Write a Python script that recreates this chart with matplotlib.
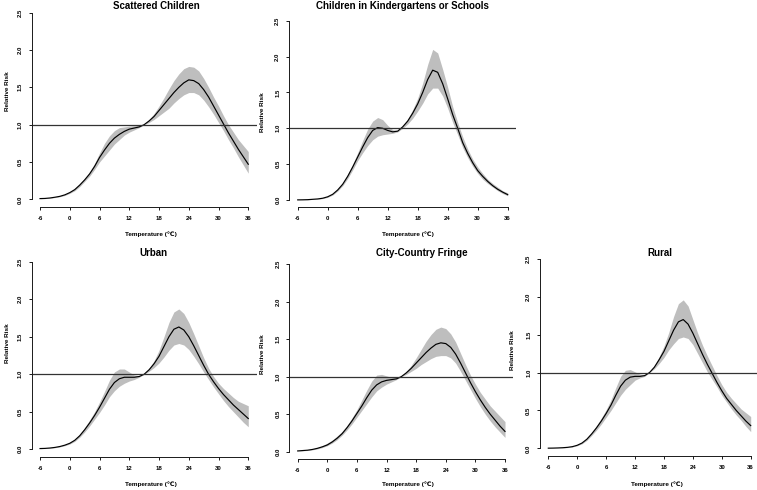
import numpy as np
import matplotlib
matplotlib.use("Agg")
import matplotlib.pyplot as plt

plt.rcParams['font.family'] = ['Liberation Sans', 'DejaVu Sans']
plt.rcParams['axes.unicode_minus'] = False

# temperature grid (degrees C)
temps = list(range(-6, 37))

# relative risk curves: estimate, lower and upper bound
scattered_est = [0.01, 0.012, 0.018, 0.028, 0.04, 0.06, 0.09, 0.13, 0.19, 0.26, 0.34, 0.44,
                 0.56, 0.66, 0.75, 0.82, 0.87, 0.91, 0.94, 0.955, 0.97, 1.0, 1.05, 1.11,
                 1.19, 1.27, 1.35, 1.43, 1.50, 1.56, 1.60, 1.59, 1.55, 1.47, 1.37, 1.25,
                 1.13, 1.01, 0.89, 0.78, 0.67, 0.57, 0.47]
scattered_lo = [0.008, 0.01, 0.015, 0.024, 0.035, 0.052, 0.08, 0.115, 0.17, 0.24, 0.31, 0.40,
                0.50, 0.58, 0.66, 0.74, 0.80, 0.86, 0.90, 0.93, 0.96, 1.0, 1.03, 1.07,
                1.12, 1.17, 1.22, 1.29, 1.35, 1.40, 1.43, 1.43, 1.40, 1.33, 1.24, 1.14,
                1.03, 0.92, 0.80, 0.69, 0.57, 0.46, 0.35]
scattered_hi = [0.012, 0.015, 0.021, 0.032, 0.045, 0.068, 0.10, 0.145, 0.21, 0.28, 0.37, 0.48,
                0.62, 0.75, 0.85, 0.92, 0.96, 0.97, 0.98, 0.985, 0.99, 1.0, 1.07, 1.15,
                1.25, 1.36, 1.48, 1.59, 1.68, 1.75, 1.78, 1.77, 1.72, 1.62, 1.50, 1.37,
                1.25, 1.12, 1.00, 0.90, 0.80, 0.72, 0.64]

school_est = [0.002, 0.003, 0.005, 0.01, 0.015, 0.025, 0.045, 0.08, 0.14, 0.22, 0.33, 0.46,
              0.60, 0.74, 0.87, 0.97, 1.01, 1.00, 0.97, 0.95, 0.96, 1.02, 1.10, 1.21,
              1.34, 1.50, 1.68, 1.81, 1.78, 1.62, 1.41, 1.19, 1.00, 0.80, 0.65, 0.52,
              0.41, 0.33, 0.26, 0.20, 0.15, 0.11, 0.075]
school_lo = [0.001, 0.002, 0.004, 0.008, 0.012, 0.02, 0.038, 0.07, 0.125, 0.20, 0.30, 0.42,
             0.55, 0.66, 0.76, 0.84, 0.89, 0.91, 0.92, 0.93, 0.95, 1.0, 1.06, 1.14,
             1.24, 1.35, 1.48, 1.56, 1.56, 1.45, 1.28, 1.08, 0.91, 0.73, 0.59, 0.47,
             0.37, 0.29, 0.23, 0.18, 0.13, 0.09, 0.06]
school_hi = [0.003, 0.004, 0.007, 0.012, 0.018, 0.03, 0.052, 0.09, 0.155, 0.24, 0.36, 0.50,
             0.66, 0.83, 0.99, 1.10, 1.15, 1.12, 1.04, 0.98, 0.97, 1.03, 1.13, 1.26,
             1.42, 1.63, 1.89, 2.10, 2.05, 1.82, 1.57, 1.30, 1.08, 0.88, 0.71, 0.57,
             0.46, 0.37, 0.29, 0.23, 0.18, 0.13, 0.10]

urban_est = [0.01, 0.012, 0.017, 0.025, 0.037, 0.055, 0.08, 0.12, 0.18, 0.26, 0.35, 0.45,
             0.56, 0.68, 0.80, 0.89, 0.94, 0.96, 0.96, 0.96, 0.97, 1.0, 1.06, 1.14,
             1.24, 1.37, 1.50, 1.60, 1.63, 1.59, 1.50, 1.38, 1.25, 1.12, 1.00, 0.90,
             0.81, 0.73, 0.66, 0.59, 0.53, 0.47, 0.41]
urban_lo = [0.008, 0.01, 0.014, 0.021, 0.032, 0.048, 0.07, 0.105, 0.16, 0.23, 0.31, 0.40,
            0.49, 0.59, 0.70, 0.78, 0.84, 0.88, 0.91, 0.93, 0.96, 1.0, 1.04, 1.09,
            1.15, 1.23, 1.32, 1.39, 1.41, 1.39, 1.33, 1.24, 1.14, 1.03, 0.93, 0.83,
            0.74, 0.65, 0.57, 0.50, 0.43, 0.36, 0.30]
urban_hi = [0.012, 0.015, 0.02, 0.03, 0.043, 0.063, 0.09, 0.135, 0.20, 0.29, 0.39, 0.50,
            0.63, 0.77, 0.92, 1.03, 1.07, 1.07, 1.03, 0.99, 0.98, 1.0, 1.08, 1.18,
            1.32, 1.50, 1.69, 1.83, 1.87, 1.81, 1.69, 1.54, 1.38, 1.22, 1.08, 0.97,
            0.88, 0.81, 0.75, 0.69, 0.64, 0.61, 0.58]

fringe_est = [0.01, 0.015, 0.02, 0.03, 0.045, 0.065, 0.09, 0.13, 0.18, 0.24, 0.32, 0.41,
              0.51, 0.61, 0.72, 0.82, 0.89, 0.93, 0.95, 0.96, 0.97, 1.0, 1.05, 1.11,
              1.18, 1.25, 1.32, 1.38, 1.43, 1.45, 1.44, 1.39, 1.30, 1.18, 1.05, 0.92,
              0.80, 0.69, 0.59, 0.50, 0.42, 0.34, 0.27]
fringe_lo = [0.008, 0.012, 0.016, 0.025, 0.037, 0.055, 0.08, 0.115, 0.16, 0.22, 0.29, 0.37,
             0.46, 0.55, 0.64, 0.73, 0.81, 0.86, 0.90, 0.93, 0.96, 1.0, 1.03, 1.07,
             1.11, 1.16, 1.20, 1.24, 1.27, 1.28, 1.28, 1.25, 1.18, 1.07, 0.95, 0.83,
             0.71, 0.60, 0.50, 0.41, 0.33, 0.26, 0.19]
fringe_hi = [0.012, 0.018, 0.025, 0.037, 0.055, 0.08, 0.115, 0.155, 0.21, 0.27, 0.35, 0.45,
             0.56, 0.69, 0.82, 0.94, 1.02, 1.03, 1.01, 0.99, 0.99, 1.0, 1.07, 1.15,
             1.25, 1.36, 1.47, 1.56, 1.63, 1.66, 1.64, 1.57, 1.46, 1.31, 1.16, 1.02,
             0.90, 0.79, 0.70, 0.61, 0.54, 0.47, 0.40]

rural_est = [0.002, 0.003, 0.005, 0.008, 0.013, 0.022, 0.04, 0.07, 0.12, 0.19, 0.27, 0.36,
             0.46, 0.57, 0.70, 0.82, 0.90, 0.94, 0.95, 0.95, 0.96, 1.0, 1.07, 1.17,
             1.28, 1.42, 1.56, 1.67, 1.70, 1.64, 1.52, 1.38, 1.24, 1.11, 0.99, 0.87,
             0.76, 0.66, 0.58, 0.50, 0.43, 0.36, 0.30]
rural_lo = [0.001, 0.002, 0.004, 0.006, 0.01, 0.018, 0.034, 0.06, 0.105, 0.17, 0.24, 0.32,
            0.41, 0.50, 0.60, 0.70, 0.78, 0.84, 0.90, 0.93, 0.95, 1.0, 1.05, 1.12,
            1.20, 1.30, 1.38, 1.45, 1.47, 1.45, 1.37, 1.25, 1.13, 1.01, 0.91, 0.81,
            0.70, 0.61, 0.52, 0.44, 0.37, 0.29, 0.22]
rural_hi = [0.003, 0.004, 0.006, 0.01, 0.016, 0.026, 0.046, 0.08, 0.135, 0.21, 0.30, 0.40,
            0.51, 0.64, 0.80, 0.95, 1.03, 1.04, 1.01, 0.98, 0.97, 1.0, 1.09, 1.21,
            1.35, 1.53, 1.74, 1.91, 1.96, 1.88, 1.70, 1.52, 1.36, 1.22, 1.09, 0.96,
            0.84, 0.74, 0.66, 0.59, 0.52, 0.47, 0.42]

titles = ['Scattered Children', 'Children in Kindergartens or Schools',
          'Urban', 'City-Country Fringe', 'Rural']
curves = [(scattered_est, scattered_lo, scattered_hi),
          (school_est, school_lo, school_hi),
          (urban_est, urban_lo, urban_hi),
          (fringe_est, fringe_lo, fringe_hi),
          (rural_est, rural_lo, rural_hi)]

x_ticks = [-6, 0, 6, 12, 18, 24, 30, 36]
y_ticks = [0.0, 0.5, 1.0, 1.5, 2.0, 2.5]
y_tick_labels = ['0.0', '0.5', '1.0', '1.5', '2.0', '2.5']

W, H = 757, 490

# plot regions in pixels: left, right, top, bottom
boxes = [(31.7, 256.6, 5.2, 206.8),
         (289.3, 516.1, 13.5, 207.2),
         (31.7, 256.6, 254.2, 456.8),
         (289.4, 513.3, 256.5, 459.2),
         (540.2, 758.8, 251.4, 455.9)]
# title centres, x-label centres, y-label centres (pixels)
title_pos = [(156, 6), (402, 6), (153, 253), (422, 253), (660, 253)]
xlab_pos = [(150.5, 234), (408, 234), (150.5, 484), (408, 484), (657, 484)]
ylab_pos = [(8, 91), (262, 112), (8, 343), (262, 354), (512, 350)]

fig = plt.figure(figsize=(W / 100, H / 100), dpi=100)

for i in range(5):
    l, r, t, b = boxes[i]
    ax = fig.add_axes([l / W, 1 - b / H, (r - l) / W, (b - t) / H])
    est, lo, hi = curves[i]

    ax.fill_between(temps, lo, hi, color='#bebebe', linewidth=0)
    ax.plot(temps, est, color='black', lw=0.85)
    ax.axhline(1.0, color='#333333', lw=0.9)

    # R style: padded limits and detached axes
    ax.set_xlim(-7.68, 37.68)
    ax.set_ylim(-0.1, 2.6)
    for s in ['top', 'right']:
        ax.spines[s].set_visible(False)
    ax.spines['left'].set_bounds(0, 2.5)
    ax.spines['bottom'].set_bounds(-6, 36)
    for s in ['left', 'bottom']:
        ax.spines[s].set_linewidth(0.7)
        ax.spines[s].set_color('#1a1a1a')
    ax.patch.set_alpha(0)

    ax.set_xticks(x_ticks)
    ax.set_yticks(y_ticks)
    ax.set_yticklabels(y_tick_labels, rotation=90, va='center')
    ax.tick_params(length=2, width=0.7, color='#1a1a1a', labelsize=4.3, pad=4.5)
    for lab in ax.get_xticklabels() + ax.get_yticklabels():
        lab.set_fontweight('bold')

    tx, ty = title_pos[i]
    fig.text(tx / W, 1 - ty / H, titles[i], ha='center', va='center',
             fontsize=7, fontweight='bold')
    xx, xy = xlab_pos[i]
    fig.text(xx / W, 1 - xy / H, 'Temperature (\u2103)', ha='center', va='center',
             fontsize=4.6, fontweight='bold')
    yx, yy = ylab_pos[i]
    fig.text(yx / W, 1 - yy / H, 'Relative Risk', ha='center', va='center',
             fontsize=4.6, fontweight='bold', rotation=90)

fig.savefig('out.png', dpi=100)
